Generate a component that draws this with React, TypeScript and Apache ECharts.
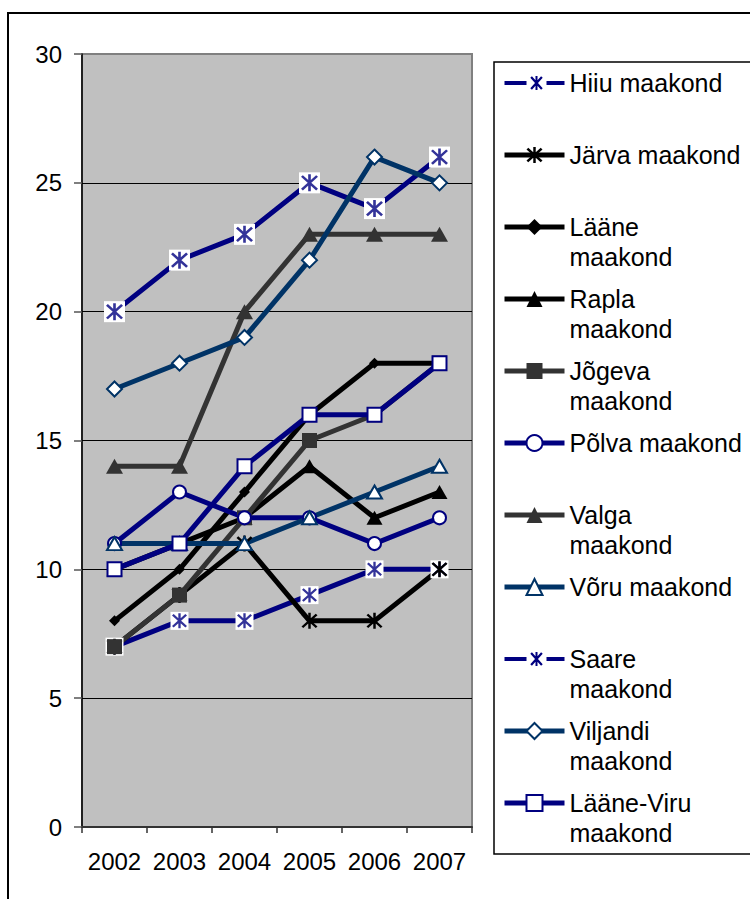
import React, { useEffect, useRef } from 'react';
import * as echarts from 'echarts';

const years = ['2002', '2003', '2004', '2005', '2006', '2007'];
const yTicks = { min: 0, max: 30, step: 5 };

const hiiu = [20, 22, 23, 25, 24, 26];
const jarva = [7, 9, 11, 8, 8, 10];
const laane = [8, 10, 13, 16, 18, 18];
const rapla = [10, 11, 12, 14, 12, 13];
const jogeva = [7, 9, 12, 15, 16, 18];
const polva = [11, 13, 12, 12, 11, 12];
const valga = [14, 14, 20, 23, 23, 23];
const voru = [11, 11, 11, 12, 13, 14];
const saare = [7, 8, 8, 9, 10, 10];
const viljandi = [17, 18, 19, 22, 26, 25];
const laaneViru = [10, 11, 14, 16, 16, 18];

const seriesNames = [
  'Hiiu maakond',
  'Järva maakond',
  'Lääne maakond',
  'Rapla maakond',
  'Jõgeva maakond',
  'Põlva maakond',
  'Valga maakond',
  'Võru maakond',
  'Saare maakond',
  'Viljandi maakond',
  'Lääne-Viru maakond',
];

const legendLines: string[][] = [
  ['Hiiu maakond'],
  ['Järva maakond'],
  ['Lääne', 'maakond'],
  ['Rapla', 'maakond'],
  ['Jõgeva', 'maakond'],
  ['Põlva maakond'],
  ['Valga', 'maakond'],
  ['Võru maakond'],
  ['Saare', 'maakond'],
  ['Viljandi', 'maakond'],
  ['Lääne-Viru', 'maakond'],
];

const NAVY = '#000080';
const BLACK = '#000000';
const DARK = '#333333';
const TEAL = '#003366';
const FONT = '"Liberation Sans", Arial, sans-serif';

const STAR =
  'path://M8.6 0L11.4 0L11.4 20L8.6 20Z' +
  'M2.99 1.01L18.99 17.01L17.01 18.99L1.01 2.99Z' +
  'M17.01 1.01L18.99 2.99L2.99 18.99L1.01 17.01Z';

const STAR_LEGEND =
  'path://M0 8L22 8L22 12L0 12ZM42 8L60 8L60 12L42 12Z' +
  'M31 3L33 3L33 17L31 17Z' +
  'M27.42 3.26L38.22 15.26L36.58 16.74L25.78 4.74Z' +
  'M36.58 3.26L38.22 4.74L27.42 16.74L25.78 15.26Z';

export default function App() {
  const ref = useRef<HTMLDivElement>(null);

  useEffect(() => {
    if (!ref.current) return;
    const chart = echarts.init(ref.current, null, { renderer: 'svg' });

    const line = (
      name: string,
      data: number[],
      color: string,
      symbol: string,
      symbolSize: number | number[],
      fill: string,
      borderWidth = 0
    ) => ({
      type: 'line',
      name,
      data,
      symbol,
      symbolSize,
      showAllSymbol: true,
      lineStyle: { color, width: 5 },
      itemStyle: { color: fill, borderColor: color, borderWidth },
      emphasis: { disabled: true },
      z: 2,
    });

    const overlay = (name: string, data: number[], size: number) => ({
      type: 'scatter',
      name,
      data,
      symbol: STAR,
      symbolSize: size,
      itemStyle: { color: NAVY },
      silent: true,
      emphasis: { disabled: true },
      z: 2,
    });

    // drawing order (later = on top), legend order is given by legend.data
    const series: any[] = [
      line(seriesNames[8], saare, NAVY, 'rect', 18, '#ffffff'),
      overlay('Saare marker', saare, 15),
      line(seriesNames[0], hiiu, NAVY, 'rect', 21, '#ffffff'),
      overlay('Hiiu marker', hiiu, 17),
      line(seriesNames[1], jarva, BLACK, STAR, 16, BLACK),
      line(seriesNames[2], laane, BLACK, 'diamond', 11, BLACK),
      line(seriesNames[3], rapla, BLACK, 'triangle', [16, 14], BLACK),
      line(seriesNames[4], jogeva, DARK, 'rect', 15, DARK),
      line(seriesNames[5], polva, NAVY, 'circle', 13, '#ffffff', 2),
      line(seriesNames[6], valga, DARK, 'triangle', [17, 15], DARK),
      line(seriesNames[7], voru, TEAL, 'triangle', [15, 13], '#ffffff', 2),
      line(seriesNames[9], viljandi, TEAL, 'diamond', 15, '#ffffff', 2),
      line(seriesNames[10], laaneViru, NAVY, 'rect', 14, '#ffffff', 2),
    ];

    const legendData = seriesNames.map((n, i) =>
      i === 0 || i === 8
        ? { name: n, icon: STAR_LEGEND, itemStyle: { color: NAVY, borderWidth: 0 } }
        : { name: n }
    );

    const labelFor: Record<string, string> = {};
    seriesNames.forEach((n, i) => {
      const ls = legendLines[i];
      labelFor[n] = ' \n' + ls.join('\n') + (ls.length === 1 ? '\n ' : '');
    });

    chart.setOption({
      animation: false,
      backgroundColor: '#ffffff',
      textStyle: { fontFamily: FONT },
      grid: {
        left: 82,
        right: 278,
        top: 54,
        bottom: 72,
        show: true,
        backgroundColor: '#c0c0c0',
        borderColor: '#808080',
        borderWidth: 2,
      },
      xAxis: {
        type: 'category',
        data: years,
        boundaryGap: true,
        axisLine: { show: true, lineStyle: { color: '#333333', width: 2 } },
        axisTick: { show: true, length: 6, interval: 0, lineStyle: { color: '#333333', width: 1.5 } },
        axisLabel: { fontSize: 24, color: '#000', margin: 22, interval: 0, fontFamily: FONT },
        splitLine: { show: false },
      },
      yAxis: {
        type: 'value',
        min: yTicks.min,
        max: yTicks.max,
        interval: yTicks.step,
        axisLine: { show: true, lineStyle: { color: '#000', width: 1.5 } },
        axisTick: { show: true, length: 8, lineStyle: { color: '#555', width: 1.5 } },
        axisLabel: { fontSize: 24, color: '#000', margin: 20, fontFamily: FONT },
        splitLine: { show: true, showMaxLine: false, showMinLine: false, lineStyle: { color: '#000', width: 1 } },
      },
      legend: {
        orient: 'vertical',
        left: 502,
        top: 38,
        padding: 0,
        itemGap: -18,
        itemWidth: 60,
        itemHeight: 20,
        selectedMode: false,
        data: legendData,
        lineStyle: { width: 5 },
        formatter: (name: string) => labelFor[name] ?? name,
        textStyle: { fontSize: 25, lineHeight: 30, color: '#000', fontFamily: FONT },
      },
      graphic: [
        {
          type: 'rect',
          shape: { x: 494, y: 62, width: 300, height: 792 },
          style: { fill: 'none', stroke: '#000', lineWidth: 1.5 },
          silent: true,
          z: 0,
        },
        {
          type: 'rect',
          shape: { x: 8, y: 13, width: 800, height: 950 },
          style: { fill: 'none', stroke: '#000', lineWidth: 2 },
          silent: true,
          z: 0,
        },
      ],
      series,
    });

    return () => chart.dispose();
  }, []);

  return (
    <div
      ref={ref}
      style={{ position: 'fixed', left: 0, top: 0, width: 750, height: 899, background: '#fff' }}
    />
  );
}
